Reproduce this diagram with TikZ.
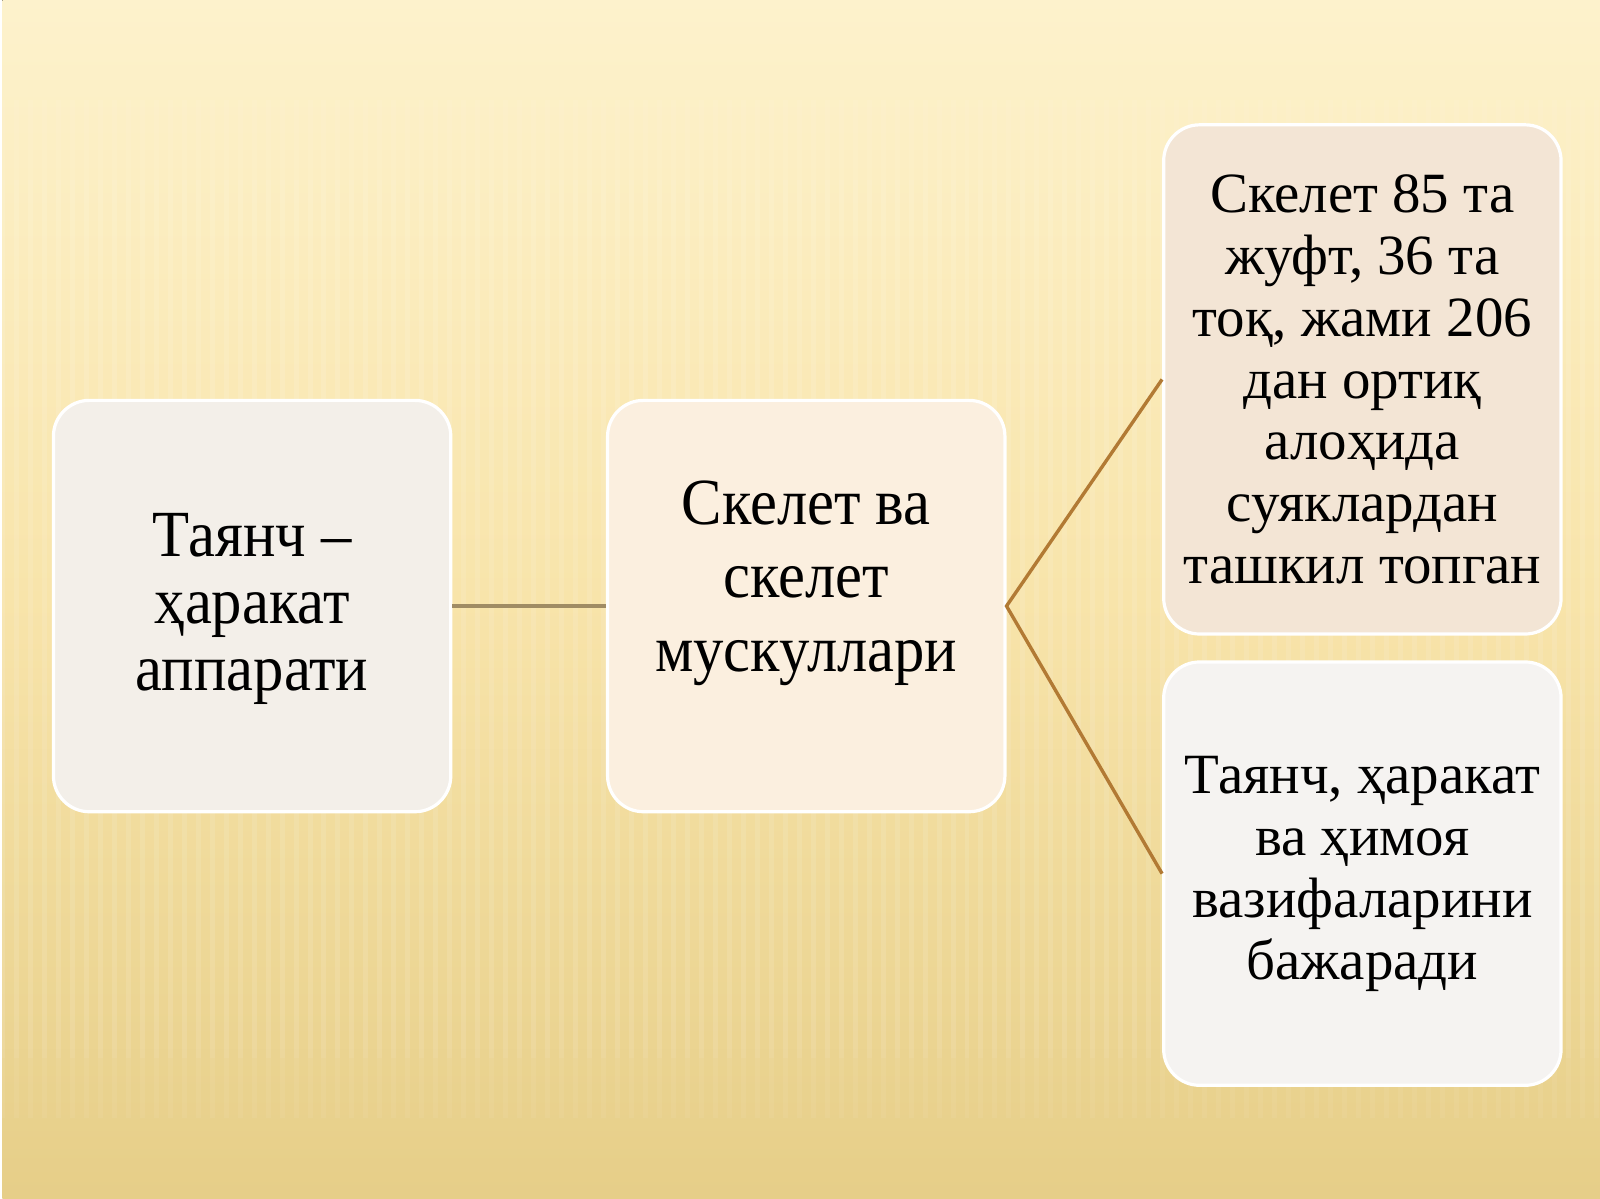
\documentclass[tikz,border=0pt]{standalone}
\usepackage{fontspec}
\setmainfont{Liberation Serif}
\usetikzlibrary{positioning}

\definecolor{fondoarriba}{RGB}{253,242,204}
\definecolor{fondomedio}{RGB}{248,228,170}
\definecolor{fondoabajo}{RGB}{230,206,136}
\definecolor{cajagris}{RGB}{243,239,233}
\definecolor{cajamelocoton}{RGB}{251,239,223}
\definecolor{cajatostada}{RGB}{243,229,213}
\definecolor{cajablanca}{RGB}{245,243,241}
\definecolor{lineaoliva}{RGB}{160,140,100}
\definecolor{lineamarron}{RGB}{178,122,52}

\begin{document}
\begin{tikzpicture}[x=0.5pt, y=-0.5pt]

% Define styles for boxes and connectors
\tikzstyle{caja} = [rectangle, rounded corners=18pt, draw=white, line width=1.6pt,
    minimum width=199pt, align=center, inner sep=0pt]
\tikzstyle{grande} = [font=\addfontfeatures{FakeStretch=0.92}\fontsize{33}{33.5}\selectfont]
\tikzstyle{chica} = [font=\fontsize{28.5}{31}\selectfont]
\tikzstyle{conector} = [line width=1.7pt]

% Background with soft stripes
\fill[top color=fondoarriba, bottom color=fondoabajo, middle color=fondomedio]
    (0,0) rectangle (1600,1200);
\foreach \x in {0,14,...,1600}{
    \draw[white, opacity=0.06, line width=2.5pt] (\x,100) -- (\x,1120);
    \draw[white, opacity=0.06, line width=2.5pt] (\x,180) -- (\x,1060);
}
\useasboundingbox (0,0) rectangle (1600,1200);

% Boxes
\node[caja, grande, fill=cajagris, minimum height=206pt, text depth=4pt] (apparat) at (250,607)
    {Таянч –\\ ҳаракат\\ аппарати};
\node[caja, grande, fill=cajamelocoton, minimum height=206pt,
    font=\addfontfeatures{FakeStretch=0.92}\fontsize{33}{36.8}\selectfont, text depth=30pt] (skelet) at (805,607)
    {Скелет ва\\ скелет\\ мускуллари};
\node[caja, chica, fill=cajatostada, minimum height=255pt] (suyak) at (1362,380)
    {Скелет 85 та\\ жуфт, 36 та\\ тоқ, жами 206\\ дан ортиқ\\ алоҳида\\ суяклардан\\ ташкил топган};
\node[caja, chica, fill=cajablanca, minimum height=212pt] (vazifa) at (1362,875)
    {Таянч, ҳаракат\\ ва ҳимоя\\ вазифаларини\\ бажаради};

% Connectors
\draw[conector, lineaoliva] (apparat.east) -- (skelet.west);
\draw[conector, lineamarron] (suyak.west) -- (skelet.east) -- (vazifa.west);

\end{tikzpicture}
\end{document}
